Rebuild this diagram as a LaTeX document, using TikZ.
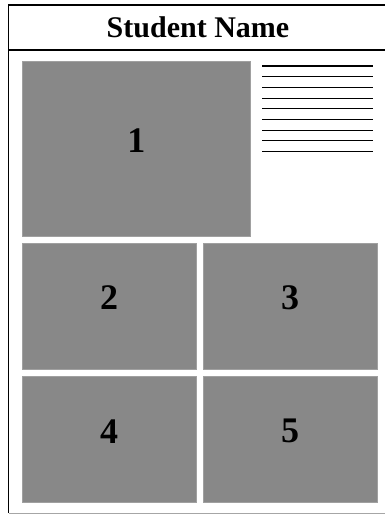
\documentclass[tikz,border=0pt]{standalone}
\usepackage{xcolor}
\usepackage{fontspec}
\setmainfont{Liberation Serif}
\usepackage{tikz}
\usetikzlibrary{positioning}

\definecolor{panelgray}{RGB}{136,136,136}
\tikzset{
  panel/.style={fill=panelgray,draw=panelgray!80!white,line width=0.4pt,inner sep=0pt},
  num/.style={font=\fontsize{36}{40}\selectfont\bfseries},
  title/.style={font=\fontsize{30}{36}\selectfont\bfseries}
}

\begin{document}
\begin{tikzpicture}[x=1pt,y=-1pt]
  \useasboundingbox (0,0) rectangle (384,514);

  % frame and header
  \draw[line width=1.7pt] (392,5) -- (8.5,5) -- (8.5,513);
  \draw[line width=1.5pt] (8.5,50) -- (392,50);
  \draw[gray!70,line width=0.8pt] (8.5,513) -- (392,513);
  \node[title] (title) at (198,27.5) {Student Name};

  % panels
  \node[panel,minimum width=228.7pt,minimum height=175pt] (p1) at (136.3,148.5) {};
  \node[panel,minimum width=174pt,minimum height=126.6pt] (p2) at (109,306) {};
  \node[panel,minimum width=173.7pt,minimum height=126.6pt] (p3) at (290.2,306) {};
  \node[panel,minimum width=174pt,minimum height=126.6pt] (p4) at (109,439.3) {};
  \node[panel,minimum width=173.7pt,minimum height=126.6pt] (p5) at (290.2,439.3) {};

  \node[num,yshift=7.5pt] (n1) at (p1) {1};
  \node[num,yshift=8pt] (n2) at (p2) {2};
  \node[num,yshift=8pt] (n3) at (p3) {3};
  \node[num,yshift=8pt] (n4) at (p4) {4};
  \node[num,yshift=8pt] (n5) at (p5) {5};

  % text lines beside panel 1
  \foreach \i in {0,...,8}
    \draw[line width=1.1pt] (262.3,66+10.7*\i) -- (373.3,66+10.7*\i);
\end{tikzpicture}
\end{document}
